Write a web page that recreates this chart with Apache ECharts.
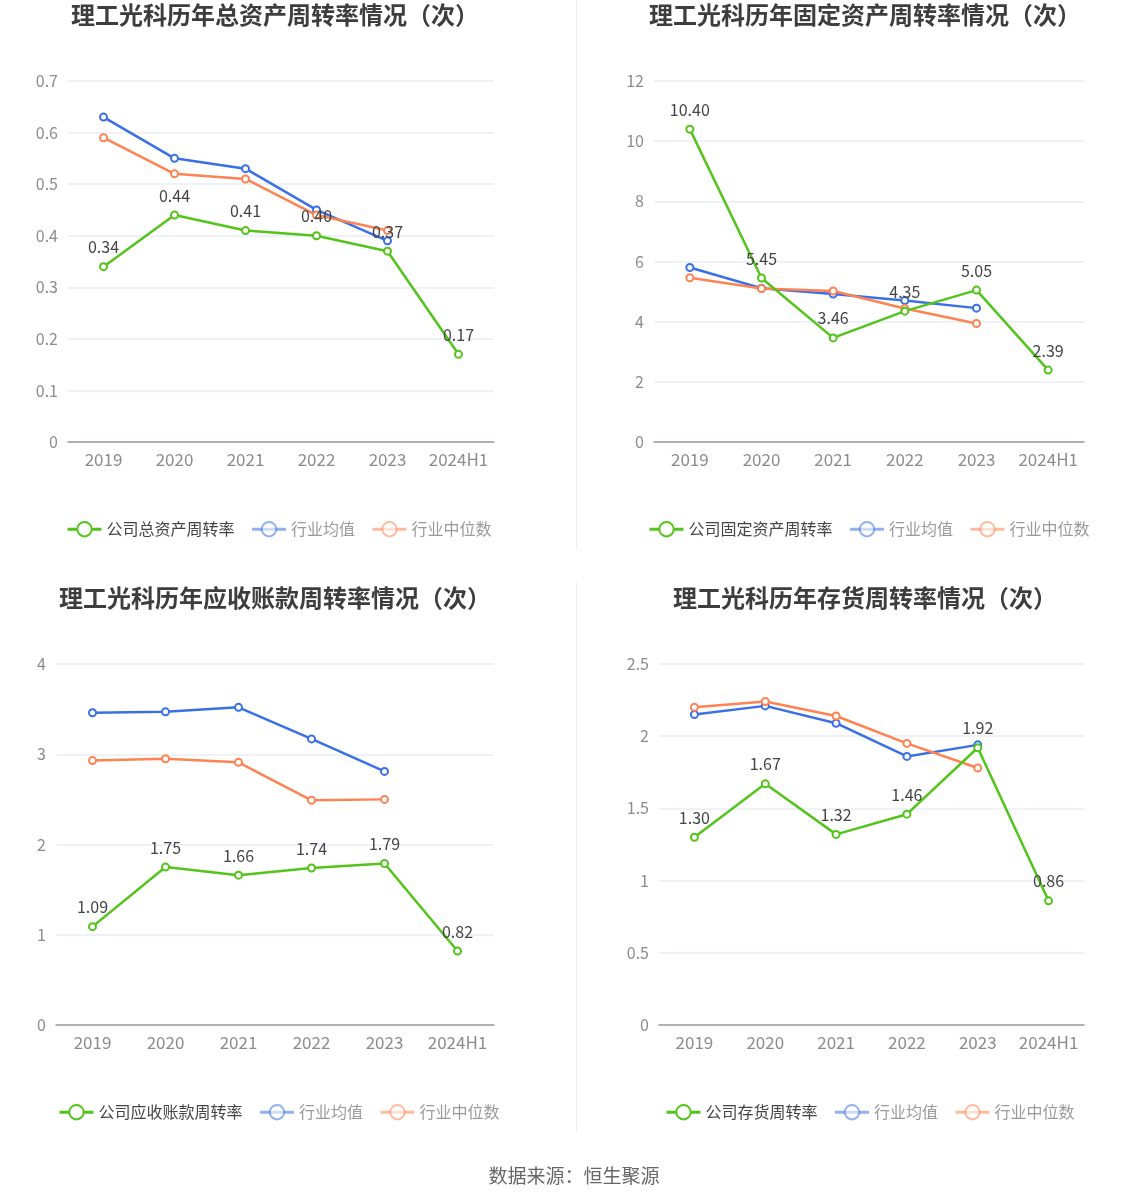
<!DOCTYPE html>
<html>
<head>
<meta charset="utf-8">
<script src="https://cdn.jsdelivr.net/npm/echarts@6/dist/echarts.min.js"></script>
<style>
html,body{margin:0;padding:0;background:#fff;}
#main{width:1148px;height:1202px;}
</style>
</head>
<body>
<div id="main"></div>
<script>
const categories = ['2019', '2020', '2021', '2022', '2023', '2024H1'];

const totalAssetCompany = [0.34, 0.44, 0.41, 0.40, 0.37, 0.17];
const totalAssetMean = [0.63, 0.55, 0.53, 0.45, 0.39];
const totalAssetMedian = [0.59, 0.52, 0.51, 0.44, 0.41];

const fixedAssetCompany = [10.40, 5.45, 3.46, 4.35, 5.05, 2.39];
const fixedAssetMean = [5.80, 5.11, 4.92, 4.70, 4.45];
const fixedAssetMedian = [5.46, 5.10, 5.02, 4.44, 3.94];

const receivableCompany = [1.09, 1.75, 1.66, 1.74, 1.79, 0.82];
const receivableMean = [3.46, 3.47, 3.52, 3.17, 2.81];
const receivableMedian = [2.93, 2.95, 2.91, 2.49, 2.50];

const inventoryCompany = [1.30, 1.67, 1.32, 1.46, 1.92, 0.86];
const inventoryMean = [2.15, 2.21, 2.09, 1.86, 1.94];
const inventoryMedian = [2.20, 2.24, 2.14, 1.95, 1.78];

const titles = [
  '理工光科历年总资产周转率情况（次）',
  '理工光科历年固定资产周转率情况（次）',
  '理工光科历年应收账款周转率情况（次）',
  '理工光科历年存货周转率情况（次）'
];
const companyNames = ['公司总资产周转率', '公司固定资产周转率', '公司应收账款周转率', '公司存货周转率'];
const meanName = '行业均值';
const medianName = '行业中位数';
const yMax = [0.7, 12, 4, 2.5];
const yInterval = [0.1, 2, 1, 0.5];
const companyData = [totalAssetCompany, fixedAssetCompany, receivableCompany, inventoryCompany];
const meanData = [totalAssetMean, fixedAssetMean, receivableMean, inventoryMean];
const medianData = [totalAssetMedian, fixedAssetMedian, receivableMedian, inventoryMedian];

const GREEN = '#52c41a', BLUE = '#3a70e6', ORANGE = '#ff8352';
const FONT = '"Noto Sans CJK SC", "Noto Sans", sans-serif';

const grids = [
  {left: 68, top: 81, width: 426, height: 361},
  {left: 654, top: 81, width: 430, height: 361},
  {left: 56, top: 664, width: 438, height: 361},
  {left: 659, top: 664, width: 425, height: 361}
];
const titlePos = [{x: 275, y: 3}, {x: 865, y: 3}, {x: 275, y: 586}, {x: 865, y: 586}];
const legendPos = [{x: 66, y: 521}, {x: 648, y: 521}, {x: 58, y: 1104}, {x: 665, y: 1104}];

const option = {
  backgroundColor: '#fff',
  animation: false,
  textStyle: {fontFamily: FONT},
  title: [],
  legend: [],
  grid: grids,
  xAxis: [],
  yAxis: [],
  series: [],
  graphic: [
    {type: 'line', shape: {x1: 576.5, y1: 0, x2: 576.5, y2: 549}, style: {stroke: '#eeeeee', lineWidth: 1}},
    {type: 'line', shape: {x1: 576.5, y1: 582, x2: 576.5, y2: 1132}, style: {stroke: '#eeeeee', lineWidth: 1}},
    {type: 'text', left: 'center', top: 1166, style: {text: '数据来源：恒生聚源', fill: '#666', font: '19px ' + FONT}}
  ]
};

for (let i = 0; i < 4; i++) {
  option.title.push({
    text: titles[i], left: titlePos[i].x, top: titlePos[i].y, textAlign: 'center', padding: 0,
    textStyle: {fontSize: 24, fontWeight: 'bold', color: '#3d3d3d', fontFamily: FONT}
  });
  const fadedItem = {opacity: 0.55, borderWidth: 3};
  option.legend.push({
    left: legendPos[i].x, top: legendPos[i].y, padding: 0, itemWidth: 34, itemHeight: 18, itemGap: 16,
    textStyle: {fontSize: 16, color: '#444', fontFamily: FONT},
    data: [
      {name: companyNames[i], itemStyle: {borderWidth: 3}, lineStyle: {width: 3}},
      {name: meanName, textStyle: {color: '#9a9a9a'}, itemStyle: fadedItem, lineStyle: {opacity: 0.55, width: 3}},
      {name: medianName, textStyle: {color: '#9a9a9a'}, itemStyle: fadedItem, lineStyle: {opacity: 0.55, width: 3}}
    ]
  });
  option.xAxis.push({
    type: 'category', gridIndex: i, data: categories, boundaryGap: true,
    axisLine: {lineStyle: {color: '#9a9aa8', width: 1.5}},
    axisTick: {alignWithLabel: true, length: 5, lineStyle: {color: '#9a9aa8'}},
    axisLabel: {interval: 0, fontSize: 17, color: '#8c8c8c', margin: 9, fontFamily: FONT}
  });
  option.yAxis.push({
    type: 'value', gridIndex: i, min: 0, max: yMax[i], interval: yInterval[i],
    axisLine: {show: false}, axisTick: {show: false},
    axisLabel: {fontSize: 16, color: '#8c8c8c', margin: 10, fontFamily: FONT},
    splitLine: {lineStyle: {color: '#e8ecf4', width: 1.5}}
  });
  const common = {type: 'line', xAxisIndex: i, yAxisIndex: i, symbol: 'emptyCircle', symbolSize: 7};
  option.series.push(Object.assign({}, common, {
    name: companyNames[i], data: companyData[i], z: 3,
    itemStyle: {color: GREEN, borderWidth: 2}, lineStyle: {width: 2.5, color: GREEN},
    label: {show: true, position: 'top', distance: 7, fontSize: 16, color: '#444', fontFamily: FONT,
      formatter: p => p.value.toFixed(2)}
  }));
  option.series.push(Object.assign({}, common, {
    name: meanName, data: meanData[i], z: 2,
    itemStyle: {color: BLUE, borderWidth: 2}, lineStyle: {width: 2.5, color: BLUE}
  }));
  option.series.push(Object.assign({}, common, {
    name: medianName, data: medianData[i], z: 2,
    itemStyle: {color: ORANGE, borderWidth: 2}, lineStyle: {width: 2.5, color: ORANGE}
  }));
}

const chart = echarts.init(document.getElementById('main'));
chart.setOption(option);
</script>
</body>
</html>
